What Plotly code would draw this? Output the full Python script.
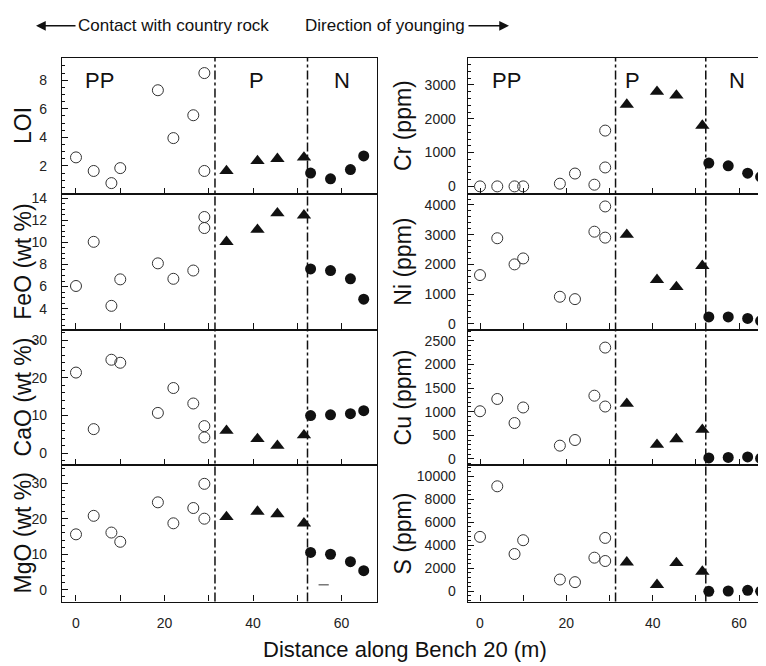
import plotly.graph_objects as go

# ---------------- data ----------------
x_pp = [0, 4, 8, 10, 18.5, 22, 26.5, 29, 29]
x_p = [34, 41, 45.5, 51.5]
x_n = [53, 57.5, 62, 65]

LOI_pp = [2.6, 1.65, 0.8, 1.85, 7.3, 3.95, 5.55, 8.5, 1.65]
LOI_p = [1.65, 2.35, 2.5, 2.6]
LOI_n = [1.5, 1.1, 1.75, 2.7]

FeO_pp = [6.05, 10.05, 4.25, 6.65, 8.1, 6.7, 7.45, 12.3, 11.3]
FeO_p = [10.05, 11.15, 12.65, 12.45]
FeO_n = [7.6, 7.45, 6.7, 4.85]

CaO_pp = [21.4, 6.4, 24.8, 24.0, 10.7, 17.3, 13.2, 7.2, 4.2]
CaO_p = [6.0, 3.8, 2.0, 4.8]
CaO_n = [10.0, 10.2, 10.5, 11.3]

MgO_pp = [15.6, 20.8, 16.1, 13.5, 24.6, 18.7, 23.0, 29.8, 20.0]
MgO_p = [20.5, 22.0, 21.3, 18.7]
MgO_n = [10.5, 10.0, 7.9, 5.4]

Cr_pp = [0, 0, 0, 0, 80, 380, 50, 560, 1650]
Cr_p = [2420, 2800, 2690, 1800]
Cr_n = [690, 610, 390, 280]

Ni_pp = [1640, 2880, 2000, 2200, 910, 830, 3100, 3950, 2900]
Ni_p = [3000, 1480, 1240, 1950]
Ni_n = [230, 230, 180, 100]

Cu_pp = [1010, 1270, 760, 1090, 280, 400, 1340, 2360, 1110]
Cu_p = [1170, 300, 420, 620]
Cu_n = [20, 30, 40, 10]

S_pp = [4740, 9140, 3250, 4450, 1030, 800, 2930, 4650, 2640]
S_p = [2530, 570, 2470, 1720]
S_n = [0, 30, 90, 0]

# small stray dash seen in the MgO panel
stray_x = [54.8, 57.1]
stray_y = [1.4, 1.4]

y_titles = ["LOI", "FeO (wt %)", "CaO (wt %)", "MgO (wt %)",
            "Cr (ppm)", "Ni (ppm)", "Cu (ppm)", "S (ppm)"]
zone_bounds = [31.4, 52.3]
zone_labels = ["PP", "P", "N"]
zone_label_x_left = [5.2, 40.8, 60.1]
zone_label_x_right = [6.2, 35.3, 59.5]
zone_label_y_left = 8.0
zone_label_y_right = 3130
x_tick_vals = [0, 10, 20, 30, 40, 50, 60]
x_tick_text = ["0", "", "20", "", "40", "", "60"]

series = [
    (LOI_pp, LOI_p, LOI_n), (FeO_pp, FeO_p, FeO_n),
    (CaO_pp, CaO_p, CaO_n), (MgO_pp, MgO_p, MgO_n),
    (Cr_pp, Cr_p, Cr_n), (Ni_pp, Ni_p, Ni_n),
    (Cu_pp, Cu_p, Cu_n), (S_pp, S_p, S_n),
]

# ---------------- styling ----------------
OFF = 8  # default page body margin
W, H = 766 - OFF, 666 - OFF
FONT = "Liberation Sans, Arial, Helvetica, sans-serif"
y_ranges = [[0.05, 9.55], [2.1, 14.4], [-3.2, 32.8], [-3.3, 35.0],
            [-220, 3795], [-195, 4375], [-137, 2742], [-890, 10965]]
y_dticks = [2, 2, 10, 10, 1000, 1000, 500, 2000]
y_minor = [0.5, 0.5, 2, 2, 200, 200, 100, 400]
rows_px = [(54.5, 191.5), (191.5, 328.5), (328.5, 465.5), (465.5, 603)]
col_px = [(62, 377), (467.7, 766)]
x_ranges = [[-3.16, 68.0], [-2.85, 66.25]]


def pxx(p):
    return min(1.0, max(0.0, (p - OFF) / W))


def pyy(p):
    return min(1.0, max(0.0, 1 - (p - OFF) / H))


fig = go.Figure()
layout = dict(
    width=W, height=H, margin=dict(l=0, r=0, t=0, b=0, pad=0),
    paper_bgcolor="white", plot_bgcolor="white", showlegend=False,
    font=dict(family=FONT, color="#111", size=14),
)
annotations = []
shapes = []

for i in range(8):
    col = 0 if i < 4 else 1
    row = i % 4
    ax = "" if i == 0 else str(i + 1)
    pp, p, n = series[i]
    common = dict(xaxis="x" + ax, yaxis="y" + ax, mode="markers", hoverinfo="skip")
    fig.add_trace(go.Scatter(x=x_pp, y=pp, marker=dict(symbol="circle-open", size=11,
                                                          color="#333", line=dict(width=1)), **common))
    fig.add_trace(go.Scatter(x=x_p, y=p, marker=dict(symbol="triangle-up", size=12.5,
                                                        color="#111"), **common))
    fig.add_trace(go.Scatter(x=x_n, y=n, marker=dict(symbol="circle", size=11,
                                                        color="#111"), **common))
    top, bot = rows_px[row]
    l, r = col_px[col]
    bottom_row = row == 3
    layout["xaxis" + ax] = dict(
        domain=[pxx(l), pxx(r)], range=x_ranges[col], anchor="y" + ax,
        showline=True, linecolor="#111", linewidth=1.3, mirror=True,
        ticks="inside", ticklen=6, tickwidth=1.2, tickcolor="#111",
        tickvals=x_tick_vals, ticktext=x_tick_text if bottom_row else [""] * 7,
        showticklabels=bottom_row, showgrid=False, zeroline=False,
        ticklabelstandoff=8, tickfont=dict(size=14, color="#222"),
    )
    layout["yaxis" + ax] = dict(
        domain=[pyy(bot), pyy(top)], range=y_ranges[i], anchor="x" + ax,
        showline=True, linecolor="#111", linewidth=1.3, mirror=(col == 0),
        ticks="inside", ticklen=6, tickwidth=1.2, tickcolor="#111",
        dtick=y_dticks[i], tick0=0, tickformat="d", showgrid=False, zeroline=False,
        minor=dict(ticks="inside", ticklen=3, dtick=y_minor[i], tickcolor="#111", tickwidth=1),
        ticklabelstandoff=11 if col == 0 else 8,
        tickfont=dict(size=14, color="#222"),
    )
    # axis title
    annotations.append(dict(
        text=y_titles[i], xref="paper", yref="paper",
        x=pxx(23 if col == 0 else 403), y=pyy((top + bot) / 2),
        xanchor="center", yanchor="middle", textangle=-90, showarrow=False,
        font=dict(size=23, color="#111", family=FONT),
    ))

# stray dash in MgO panel
fig.add_trace(go.Scatter(x=stray_x, y=stray_y, xaxis="x4", yaxis="y4", mode="lines",
                         line=dict(color="#333", width=1), hoverinfo="skip"))

# zone boundary lines
for col, xref in [(0, "x4"), (1, "x8")]:
    for xb in zone_bounds:
        shapes.append(dict(type="line", xref=xref, yref="paper", x0=xb, x1=xb,
                           y0=pyy(603), y1=pyy(54.5),
                           line=dict(color="#111", width=1.5, dash="dashdot")))

# zone labels
for lab, xl in zip(zone_labels, zone_label_x_left):
    annotations.append(dict(text=lab, xref="x", yref="y", x=xl, y=zone_label_y_left,
                            xanchor="center", yanchor="middle",
                            showarrow=False, font=dict(size=22, color="#111", family=FONT)))
for lab, xl in zip(zone_labels, zone_label_x_right):
    annotations.append(dict(text=lab, xref="x5", yref="y5", x=xl, y=zone_label_y_right,
                            xanchor="center", yanchor="middle",
                            showarrow=False, font=dict(size=22, color="#111", family=FONT)))

# header texts and arrows
annotations.append(dict(text="Contact with country rock", xref="paper", yref="paper",
                        x=pxx(173), y=pyy(22), xanchor="center", yanchor="middle",
                        showarrow=False, font=dict(size=17, color="#111", family=FONT)))
annotations.append(dict(text="Direction of younging", xref="paper", yref="paper",
                        x=pxx(385), y=pyy(22), xanchor="center", yanchor="middle",
                        showarrow=False, font=dict(size=17, color="#111", family=FONT)))
annotations.append(dict(text="", xref="paper", yref="paper", axref="pixel", ayref="pixel",
                        x=pxx(36), y=pyy(22), ax=41, ay=0, showarrow=True,
                        arrowhead=2, arrowsize=1.3, arrowwidth=1.5, arrowcolor="#111"))
annotations.append(dict(text="", xref="paper", yref="paper", axref="pixel", ayref="pixel",
                        x=pxx(509), y=pyy(22), ax=-42, ay=0, showarrow=True,
                        arrowhead=2, arrowsize=1.3, arrowwidth=1.5, arrowcolor="#111"))

# x-axis title
annotations.append(dict(text="Distance along Bench 20 (m)", xref="paper", yref="paper",
                        x=pxx(405), y=pyy(651), xanchor="center", yanchor="middle",
                        showarrow=False, font=dict(size=22, color="#111", family=FONT)))

layout["annotations"] = annotations
layout["shapes"] = shapes
fig.update_layout(**layout)
fig.write_html("out.html")
